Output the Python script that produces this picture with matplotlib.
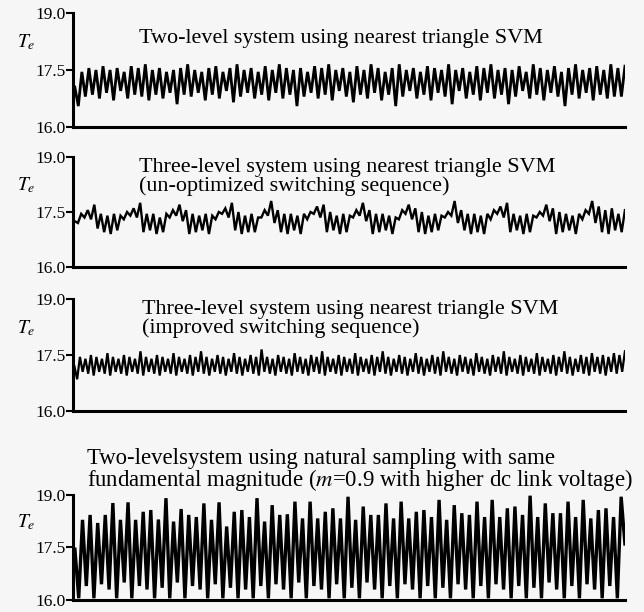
"""Torque ripple comparison, four stacked panels."""
import numpy as np
import matplotlib.pyplot as plt

plt.rcParams['font.family'] = ['Liberation Serif', 'DejaVu Serif']
plt.rcParams['mathtext.fontset'] = 'stix'

# ---- data: alternating trough / peak values ----
te_two_level = [
    17.05,
    16.55, 17.45, 16.80, 17.55, 16.85, 17.50, 16.75, 17.60, 16.90, 17.50, 16.70, 17.55,
    16.95, 17.45, 16.75, 17.60, 16.85, 17.55, 16.80, 17.65, 16.70, 17.50, 16.85, 17.55,
    16.75, 17.45, 16.90, 17.50, 16.60, 17.55, 16.85, 17.65, 16.80, 17.50, 16.90, 17.45,
    16.70, 17.55, 16.85, 17.60, 16.75, 17.45, 16.95, 17.55, 16.65, 17.65, 16.80, 17.50,
    16.90, 17.55, 16.75, 17.45, 16.85, 17.60, 16.70, 17.50, 16.90, 17.65, 16.75, 17.55,
    16.85, 17.50, 16.55, 17.55, 16.80, 17.45, 16.90, 17.60, 16.75, 17.55, 16.85, 17.65,
    16.70, 17.50, 16.95, 17.55, 16.80, 17.45, 16.65, 17.60, 16.85, 17.50, 16.75, 17.65,
    16.90, 17.55, 16.70, 17.45, 16.85, 17.55, 16.55, 17.65, 16.80, 17.50, 16.95, 17.55,
    16.75, 17.45, 16.85, 17.60, 16.70, 17.55, 16.90, 17.50, 16.80, 17.65, 16.60, 17.50,
    16.95, 17.55, 16.75, 17.45, 16.85, 17.60, 16.70, 17.55, 16.90, 17.65, 16.75, 17.50,
    16.85, 17.55, 16.60, 17.50, 16.80, 17.60, 16.95, 17.45, 16.75, 17.65, 16.85, 17.55,
    16.70, 17.50, 16.90, 17.60, 16.80, 17.45, 16.55, 17.55, 16.85, 17.65, 16.75, 17.50,
    16.90, 17.55, 16.70, 17.60, 16.85, 17.50, 16.75, 17.65, 16.80, 17.55, 16.80, 17.60,
]

te_three_unopt = [
    17.25,
    17.20, 17.45, 17.35, 17.55, 17.30, 17.70, 17.05, 17.45, 16.95, 17.40, 16.90, 17.45, 17.00, 17.40,
    17.30, 17.50, 17.40, 17.60, 17.35, 17.75, 16.95, 17.45, 17.00, 17.45, 16.90, 17.35, 16.95, 17.45,
    17.35, 17.55, 17.40, 17.70, 17.25, 17.55, 16.90, 17.45, 16.95, 17.40, 17.00, 17.45, 16.90, 17.40,
    17.30, 17.50, 17.45, 17.60, 17.35, 17.75, 17.00, 17.50, 16.90, 17.40, 16.95, 17.45, 16.95, 17.35,
    17.35, 17.55, 17.40, 17.80, 17.20, 17.55, 16.95, 17.45, 16.90, 17.45, 17.00, 17.40, 16.90, 17.45,
    17.30, 17.50, 17.45, 17.65, 17.35, 17.70, 16.95, 17.50, 17.00, 17.40, 16.90, 17.45, 16.95, 17.40,
    17.35, 17.55, 17.40, 17.75, 17.25, 17.55, 16.90, 17.45, 16.95, 17.45, 17.00, 17.40, 16.90, 17.35,
    17.30, 17.55, 17.45, 17.70, 17.30, 17.60, 16.95, 17.50, 16.90, 17.40, 16.95, 17.45, 17.00, 17.40,
    17.35, 17.50, 17.40, 17.80, 17.20, 17.55, 17.00, 17.45, 16.90, 17.45, 16.95, 17.40, 16.90, 17.45,
    17.30, 17.55, 17.45, 17.65, 17.35, 17.75, 16.95, 17.45, 17.00, 17.40, 16.90, 17.45, 16.95, 17.40,
    17.35, 17.50, 17.40, 17.70, 17.25, 17.60, 16.90, 17.50, 16.95, 17.45, 17.00, 17.40, 16.90, 17.45,
    17.30, 17.55, 17.45, 17.80, 17.20, 17.65, 16.95, 17.55, 16.90, 17.60, 17.00, 17.45, 16.95, 17.55,
]

te_three_improved = [
    17.20,
    16.85, 17.45, 17.05, 17.40, 17.00, 17.50, 16.95, 17.45, 17.05, 17.40, 17.00, 17.55, 16.95, 17.45, 17.05, 17.40, 17.00, 17.50, 16.95, 17.45,
    17.05, 17.40, 17.00, 17.60, 16.95, 17.45, 17.05, 17.40, 17.00, 17.50, 16.95, 17.45, 17.05, 17.40, 17.00, 17.55, 16.95, 17.45, 17.05, 17.40,
    17.00, 17.50, 16.95, 17.45, 17.05, 17.60, 17.00, 17.45, 16.95, 17.40, 17.05, 17.50, 17.00, 17.45, 16.95, 17.40, 17.05, 17.55, 17.00, 17.45,
    16.95, 17.40, 17.05, 17.50, 17.00, 17.45, 16.95, 17.65, 17.05, 17.45, 17.00, 17.40, 16.95, 17.50, 17.05, 17.45, 17.00, 17.40, 16.95, 17.55,
    17.05, 17.45, 17.00, 17.40, 16.95, 17.50, 17.05, 17.45, 17.00, 17.60, 16.95, 17.45, 17.05, 17.40, 17.00, 17.50, 16.95, 17.45, 17.05, 17.40,
    17.00, 17.55, 16.95, 17.45, 17.05, 17.40, 17.00, 17.50, 16.95, 17.45, 17.05, 17.60, 17.00, 17.45, 16.95, 17.40, 17.05, 17.50, 17.00, 17.45,
    16.95, 17.40, 17.05, 17.55, 17.00, 17.45, 16.95, 17.40, 17.05, 17.50, 17.00, 17.45, 16.95, 17.60, 17.05, 17.45, 17.00, 17.40, 16.95, 17.50,
    17.05, 17.45, 17.00, 17.40, 16.95, 17.55, 17.05, 17.45, 17.00, 17.40, 16.95, 17.50, 17.05, 17.45, 17.00, 17.60, 16.95, 17.45, 17.05, 17.40,
    17.00, 17.50, 16.95, 17.45, 17.05, 17.40, 17.00, 17.55, 16.95, 17.45, 17.05, 17.40, 17.00, 17.50, 16.95, 17.45, 17.05, 17.60, 17.00, 17.45,
    16.95, 17.40, 17.05, 17.50, 17.00, 17.45, 16.95, 17.55, 17.05, 17.45, 17.00, 17.50, 16.95, 17.45, 17.05, 17.55, 17.00, 17.50, 17.05, 17.60,
]

te_natural = [
    17.45,
    16.05, 18.29, 16.40, 18.43, 16.05, 18.20, 16.45, 18.43, 16.30, 18.77, 16.05, 18.29,
    16.50, 18.79, 16.05, 18.29, 16.40, 18.52, 16.30, 18.57, 16.05, 18.30, 16.35, 18.91,
    16.05, 18.24, 16.50, 18.60, 16.05, 18.43, 16.40, 18.37, 16.30, 18.76, 16.05, 18.29,
    16.45, 18.79, 16.05, 18.10, 16.35, 18.52, 16.05, 18.57, 16.30, 18.37, 16.05, 18.91,
    16.40, 18.24, 16.05, 18.71, 16.45, 18.43, 16.30, 18.45, 16.05, 18.81, 16.50, 18.33,
    16.05, 18.81, 16.40, 18.33, 16.30, 18.52, 16.05, 18.62, 16.45, 18.33, 16.05, 18.95,
    16.35, 18.29, 16.05, 18.67, 16.50, 18.43, 16.30, 18.43, 16.05, 18.76, 16.40, 18.33,
    16.05, 18.81, 16.45, 18.33, 16.30, 18.52, 16.05, 18.57, 16.40, 18.37, 16.05, 18.86,
    16.35, 18.29, 16.05, 18.71, 16.45, 18.48, 16.30, 18.43, 16.05, 18.81, 16.40, 18.37,
    16.05, 18.86, 16.45, 18.37, 16.30, 18.62, 16.05, 18.67, 16.40, 18.43, 16.05, 18.98,
    16.35, 18.37, 16.05, 18.76, 16.50, 18.48, 16.30, 18.48, 16.05, 18.81, 16.40, 18.37,
    16.05, 18.86, 16.45, 18.33, 16.30, 18.57, 16.05, 18.62, 16.40, 18.37, 16.05, 18.95,
    17.60,
]

y_ticks = [16.0, 17.5, 19.0]
y_tick_labels = ['16.0', '17.5', '19.0']

BG = '#f6f6f6'


def style_axes(ax, values, lw):
    ax.plot(np.arange(len(values)), values, color='black', linewidth=lw,
            solid_joinstyle='miter')
    ax.set_xlim(-0.5, len(values) - 1)
    ax.set_ylim(16.0, 19.0)
    ax.set_yticks(y_ticks)
    ax.set_yticklabels(y_tick_labels, fontsize=12.5)
    ax.set_xticks([])
    ax.set_facecolor(BG)
    for side in ('top', 'right'):
        ax.spines[side].set_visible(False)
    ax.spines['left'].set_linewidth(2.2)
    ax.spines['bottom'].set_linewidth(2.2)
    ax.tick_params(axis='y', direction='out', length=5, width=1.5, pad=0)
    ax.text(-0.085, 0.74, r'$T_e$', transform=ax.transAxes, fontsize=14,
            ha='center', va='center')


fig = plt.figure(figsize=(6.44, 6.12), dpi=100, facecolor=BG)
left, width = 0.1134, 0.857

ax1 = fig.add_axes([left, 0.7925, width, 0.1863])
style_axes(ax1, te_two_level, 2.0)
ax1.text(0.119, 0.78, 'Two-level system using nearest triangle SVM',
         transform=ax1.transAxes, fontsize=15.9, va='center')

ax2 = fig.add_axes([left, 0.5637, width, 0.1798])
style_axes(ax2, te_three_unopt, 1.7)
ax2.text(0.119, 0.82, 'Three-level system using nearest triangle SVM\n'
         '(un-optimized switching sequence)',
         transform=ax2.transAxes, fontsize=15.9, va='center', linespacing=0.95)

ax3 = fig.add_axes([left, 0.3284, width, 0.1830])
style_axes(ax3, te_three_improved, 1.6)
ax3.text(0.125, 0.82, 'Three-level system using nearest triangle SVM\n'
         '(improved switching sequence)',
         transform=ax3.transAxes, fontsize=15.9, va='center', linespacing=0.95)

ax4 = fig.add_axes([left, 0.0196, width, 0.1716])
style_axes(ax4, te_natural, 2.4)
ax4.text(0.025, 1.23, 'Two-levelsystem using natural sampling with same\n'
         r'fundamental magnitude ($m$=0.9 with higher dc link voltage)',
         transform=ax4.transAxes, fontsize=16.4, va='center', linespacing=0.9)

fig.savefig('out.png', dpi=100, facecolor=BG)
